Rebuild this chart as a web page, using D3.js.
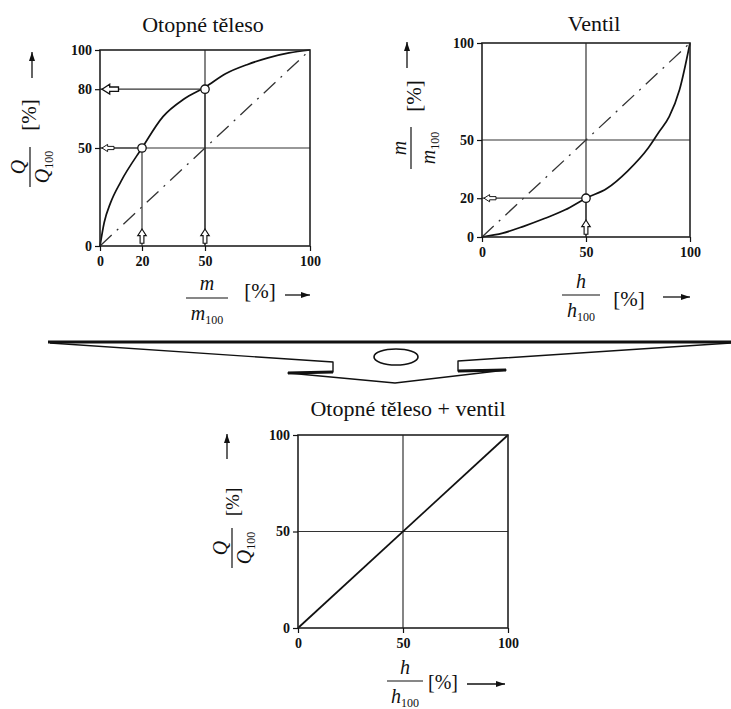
<!DOCTYPE html>
<html><head><meta charset="utf-8">
<script src="https://cdn.jsdelivr.net/npm/d3@7"></script>
<style>html,body{margin:0;padding:0;background:#fff;}svg{display:block;}</style>
</head><body>
<svg id="c" width="731" height="709"></svg>
<script>
// ---------- data ----------
const titles = ["Otopné těleso", "Ventil", "Otopné těleso + ventil"];
const radiatorXTicks = [0, 20, 50, 100];
const radiatorYTicks = [0, 50, 80, 100];
const valveXTicks = [0, 50, 100];
const valveYTicks = [0, 20, 50, 100];
const comboXTicks = [0, 50, 100];
const comboYTicks = [0, 50, 100];
// radiator: heat output Q/Q100 vs. mass flow m/m100
const radiatorFlow = [0, 2, 5, 10, 20, 30, 40, 50, 60, 70, 80, 90, 100];
const radiatorHeat = [0, 12, 22, 33, 50, 66, 75, 81, 88, 92.5, 96, 98.5, 100];
// valve: mass flow m/m100 vs. lift h/h100
const valveLift = [0, 10, 20, 30, 40, 50, 60, 70, 80, 85, 90, 95, 100];
const valveFlow = [0, 2, 5.5, 9.5, 14, 20, 25, 34, 46, 54, 62, 76, 100];
// combination: Q/Q100 vs. h/h100
const comboLift = [0, 100];
const comboHeat = [0, 100];
// read-off points
const radiatorReadX = [20, 50], radiatorReadY = [50, 80];
const valveReadX = [50], valveReadY = [20];

// ---------- drawing ----------
const svg = d3.select("#c");
const SERIF = "'Liberation Serif','DejaVu Serif',serif";
const INK = "#111";

function arrowOpen(g, tx, ty, rot, s) {
  g.append("path")
    .attr("d", "M0,0L7,-4.5L7,-2L15,-2L15,2L7,2L7,4.5Z")
    .attr("transform", `translate(${tx},${ty}) rotate(${rot}) scale(${s})`)
    .attr("fill", "#fff").attr("stroke", INK).attr("stroke-width", 1.2);
}
function arrowSolid(g, x1, y1, x2, y2) {
  const a = Math.atan2(y2 - y1, x2 - x1) * 180 / Math.PI;
  g.append("line").attr("x1", x1).attr("y1", y1).attr("x2", x2).attr("y2", y2)
    .attr("stroke", INK).attr("stroke-width", 1.3);
  g.append("path").attr("d", "M0,0L-9,-3L-9,3Z")
    .attr("transform", `translate(${x2},${y2}) rotate(${a})`).attr("fill", INK);
}
function fraction(g, cx, cy, rot, num, den, w, numOff, denOff, fs) {
  const f = g.append("g").attr("transform", `translate(${cx},${cy}) rotate(${rot})`);
  f.append("text").attr("x", 0).attr("y", -numOff).attr("text-anchor", "middle")
    .attr("font-family", SERIF).attr("font-style", "italic").attr("font-size", fs).attr("fill", INK).text(num);
  f.append("line").attr("x1", -w / 2).attr("x2", w / 2).attr("y1", 0).attr("y2", 0)
    .attr("stroke", INK).attr("stroke-width", 1.2);
  const t = f.append("text").attr("x", 0).attr("y", denOff).attr("text-anchor", "middle")
    .attr("font-family", SERIF).attr("fill", INK);
  t.append("tspan").attr("font-style", "italic").attr("font-size", fs).text(den);
  t.append("tspan").attr("font-size", fs * 0.6).attr("dy", 4).text("100");
}
function pct(g, cx, cy, rot, fs) {
  g.append("text").attr("transform", `translate(${cx},${cy}) rotate(${rot})`)
    .attr("text-anchor", "middle").attr("font-family", SERIF).attr("font-size", fs)
    .attr("fill", INK).text("[%]");
}

function panel(cfg) {
  const x = d3.scaleLinear().domain([0, 100]).range([cfg.left, cfg.right]);
  const y = d3.scaleLinear().domain([0, 100]).range([cfg.bottom, cfg.top]);
  const g = svg.append("g");
  const grid = (x1, y1, x2, y2) => g.append("line")
    .attr("x1", x(x1)).attr("y1", y(y1)).attr("x2", x(x2)).attr("y2", y(y2))
    .attr("stroke", "#333").attr("stroke-width", 1.2);
  grid(0, 50, 100, 50);
  grid(50, 0, 50, 100);
  cfg.readX.forEach((rx, i) => {
    const ry = cfg.readY[i];
    grid(rx, 0, rx, ry);
    grid(0, ry, rx, ry);
  });
  if (cfg.diag) {
    g.append("line").attr("x1", x(0)).attr("y1", y(0)).attr("x2", x(100)).attr("y2", y(100))
      .attr("stroke", "#333").attr("stroke-width", 1.3).attr("stroke-dasharray", "16,7,2,7");
  }
  const line = d3.line().x((d, i) => x(cfg.xs[i])).y((d, i) => y(cfg.ys[i])).curve(d3.curveMonotoneX);
  g.append("path").datum(cfg.xs).attr("d", line).attr("fill", "none")
    .attr("stroke", INK).attr("stroke-width", 1.7);
  g.append("rect").attr("x", x(0)).attr("y", y(100)).attr("width", x(100) - x(0)).attr("height", y(0) - y(100))
    .attr("fill", "none").attr("stroke", "#222").attr("stroke-width", 1.6);
  const ax = g.append("g").attr("transform", `translate(0,${y(0)})`)
    .call(d3.axisBottom(x).tickValues(cfg.xt).tickSize(5).tickSizeOuter(0).tickPadding(5).tickFormat(d3.format("d")));
  const ay = g.append("g").attr("transform", `translate(${x(0)},0)`)
    .call(d3.axisLeft(y).tickValues(cfg.yt).tickSize(5).tickSizeOuter(0).tickPadding(3).tickFormat(d3.format("d")));
  [ax, ay].forEach(a => {
    a.select(".domain").remove();
    a.selectAll("line").attr("stroke", INK).attr("stroke-width", 1.2);
    a.selectAll("text").attr("font-family", SERIF).attr("font-weight", "bold")
      .attr("font-size", 14).attr("fill", INK);
  });
  cfg.readX.forEach((rx, i) => {
    const ry = cfg.readY[i];
    arrowOpen(g, x(0) + 2, y(ry), 0, ry > 60 ? 1.1 : 0.8);
    arrowOpen(g, x(rx), y(0) - 17, 90, 0.95);
    g.append("circle").attr("cx", x(rx)).attr("cy", y(ry)).attr("r", 4.2)
      .attr("fill", "#fff").attr("stroke", INK).attr("stroke-width", 1.3);
  });
  g.append("text").attr("x", (x(0) + x(100)) / 2 + cfg.titleDx).attr("y", cfg.titleY)
    .attr("text-anchor", "middle").attr("font-family", SERIF).attr("font-size", 22)
    .attr("fill", INK).text(cfg.title);
  return g;
}

const g1 = panel({left: 100, right: 310, top: 50, bottom: 246, xs: radiatorFlow, ys: radiatorHeat,
  xt: radiatorXTicks, yt: radiatorYTicks, readX: radiatorReadX, readY: radiatorReadY, diag: true,
  title: titles[0], titleY: 32, titleDx: -2});
const g2 = panel({left: 482, right: 690, top: 43, bottom: 237, xs: valveLift, ys: valveFlow,
  xt: valveXTicks, yt: valveYTicks, readX: valveReadX, readY: valveReadY, diag: true,
  title: titles[1], titleY: 31, titleDx: 8});
const g3 = panel({left: 298, right: 508, top: 435, bottom: 628, xs: comboLift, ys: comboHeat,
  xt: comboXTicks, yt: comboYTicks, readX: [], readY: [], diag: false,
  title: titles[2], titleY: 416, titleDx: 5});

// axis labels: panel 1
fraction(g1, 207, 298, 0, "m", "m", 42, 8, 22, 20);
pct(g1, 260, 298, 0, 21);
arrowSolid(g1, 285, 295, 310, 295);
fraction(g1, 30, 167, -90, "Q", "Q", 40, 5, 19, 20);
pct(g1, 36, 115, -90, 21);
arrowSolid(g1, 32, 78, 32, 52);
// panel 2
fraction(g2, 581, 295, 0, "h", "h", 38, 7, 22, 20);
pct(g2, 629, 306, 0, 21);
arrowSolid(g2, 663, 297, 690, 297);
fraction(g2, 411, 148, -90, "m", "m", 42, 5, 24, 20);
pct(g2, 421, 96, -90, 21);
arrowSolid(g2, 407, 68, 407, 42);
// panel 3
fraction(g3, 405, 681, 0, "h", "h", 36, 7, 22, 20);
pct(g3, 443, 689, 0, 20);
arrowSolid(g3, 467, 684, 505, 684);
fraction(g3, 232, 548, -90, "Q", "Q", 40, 5, 19, 20);
pct(g3, 239, 502, -90, 19);
arrowSolid(g3, 227, 459, 227, 434);

// ---------- connector arrow shape ----------
const conn = svg.append("g").attr("fill", "none").attr("stroke", INK).attr("stroke-linejoin", "round");
const cx0 = 395, topY = 342;
conn.append("path").attr("stroke-width", 1.4)
  .attr("d", `M50,${topY + 1}L${cx0 - 62},${topY + 20}L${cx0 - 62},${topY + 30}L${cx0 - 107},${topY + 31}`
    + `L${cx0},${topY + 41}L${cx0 + 111},${topY + 28}L${cx0 + 63},${topY + 29}L${cx0 + 63},${topY + 19}L731,${topY + 1}`);
conn.append("line").attr("x1", 48).attr("x2", 731).attr("y1", topY).attr("y2", topY).attr("stroke-width", 3);
conn.append("line").attr("x1", cx0 - 107).attr("x2", cx0 - 62).attr("y1", topY + 31).attr("y2", topY + 30).attr("stroke-width", 3);
conn.append("line").attr("x1", cx0 + 63).attr("x2", cx0 + 111).attr("y1", topY + 29).attr("y2", topY + 28).attr("stroke-width", 3);
conn.append("ellipse").attr("cx", cx0 + 1).attr("cy", topY + 15).attr("rx", 22).attr("ry", 8).attr("stroke-width", 1.6);
</script>
</body></html>
